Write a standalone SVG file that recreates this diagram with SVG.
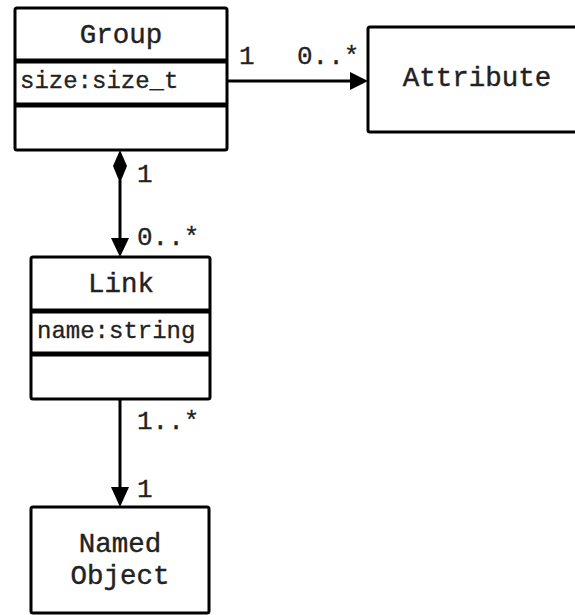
<svg xmlns="http://www.w3.org/2000/svg" width="575" height="615" viewBox="0 0 575 615">
<style>
.box{fill:#fff;stroke:#000;stroke-width:3}
.div{stroke:#000;stroke-width:5}
.ln{stroke:#000;stroke-width:3;fill:none}
.t{font-family:"Liberation Mono","Courier New",monospace;font-size:27.5px;fill:#222;text-anchor:middle;stroke:#222;stroke-width:0.4}
.a{font-family:"Liberation Mono","Courier New",monospace;font-size:24px;fill:#222;stroke:#222;stroke-width:0.3}
.m{font-family:"Liberation Mono","Courier New",monospace;font-size:26px;fill:#222;stroke:#222;stroke-width:0.3}
</style>
<rect width="575" height="615" fill="#fff"/>
<g id="connectors">
<line class="ln" x1="227" y1="81" x2="352" y2="81"/>
<polygon points="350,72 368,81 350,90" fill="#000"/>
<text class="m" x="239" y="64">1</text>
<text class="m" x="297" y="64">0..*</text>
<line class="ln" x1="120" y1="180" x2="120" y2="240"/>
<polygon points="120,150 127,166 120,183 113,166" fill="#000"/>
<polygon points="111,238 120,257 129,238" fill="#000"/>
<text class="m" x="137" y="182">1</text>
<text class="m" x="137" y="245">0..*</text>
<line class="ln" x1="120" y1="399" x2="120" y2="490"/>
<polygon points="111,487 120,507 129,487" fill="#000"/>
<text class="m" x="137" y="429">1..*</text>
<text class="m" x="137" y="497">1</text>
</g>
<g id="group">
<rect class="box" x="15" y="8" width="212" height="142" rx="2"/>
<line class="div" x1="15" y1="61" x2="227" y2="61"/>
<line class="div" x1="15" y1="105" x2="227" y2="105"/>
<text class="t" x="121" y="43">Group</text>
<text class="a" x="20" y="88">size:size_t</text>
</g>
<g id="attribute">
<rect class="box" x="368" y="27" width="220" height="105" rx="2"/>
<text class="t" x="477" y="86">Attribute</text>
</g>
<g id="link">
<rect class="box" x="31" y="257" width="179" height="142" rx="2"/>
<line class="div" x1="31" y1="311" x2="210" y2="311"/>
<line class="div" x1="31" y1="354" x2="210" y2="354"/>
<text class="t" x="121" y="292">Link</text>
<text class="a" x="37" y="338">name:string</text>
</g>
<g id="named-object">
<rect class="box" x="31" y="507" width="178" height="106" rx="2"/>
<text class="t" x="120" y="552">Named</text>
<text class="t" x="120" y="584">Object</text>
</g>
</svg>
